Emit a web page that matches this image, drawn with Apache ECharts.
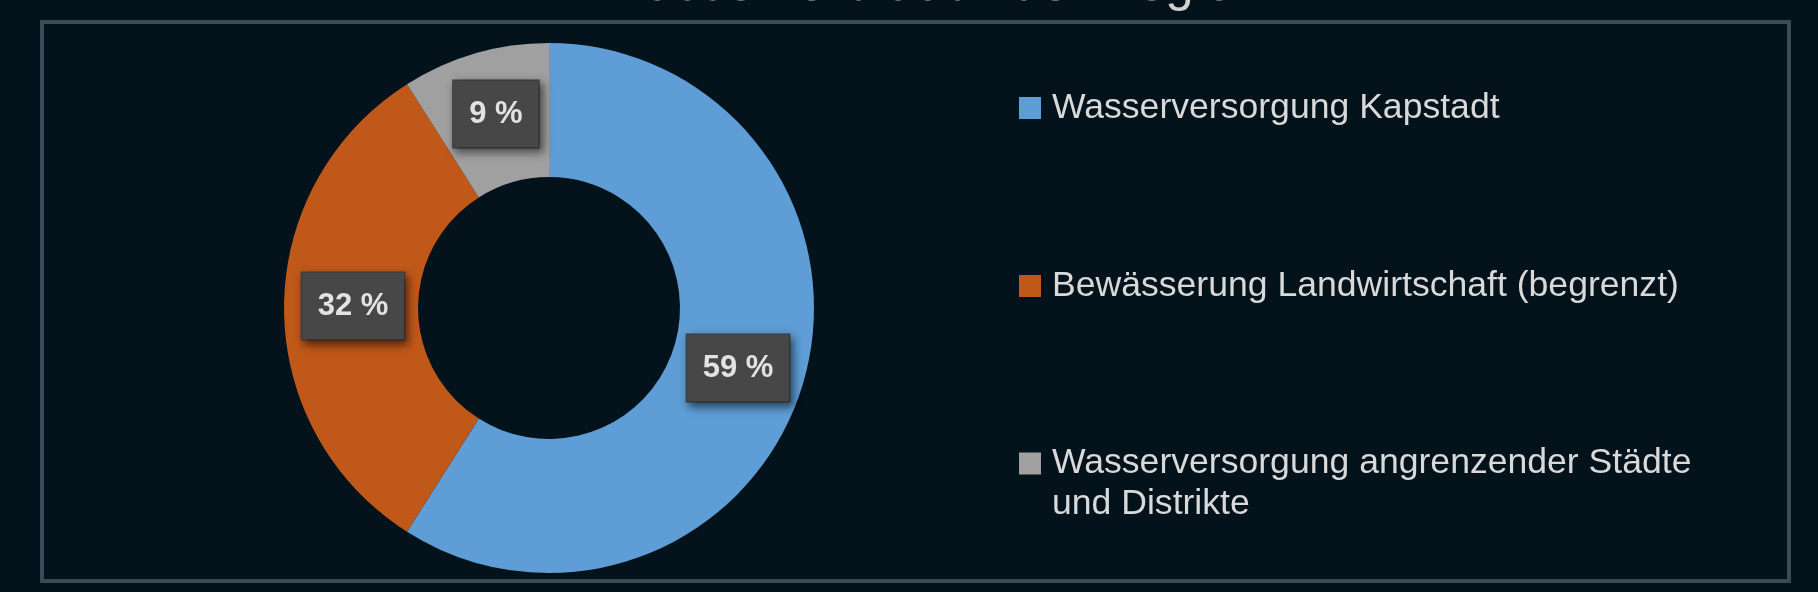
<!DOCTYPE html>
<html>
<head>
<meta charset="utf-8">
<script src="https://cdn.jsdelivr.net/npm/echarts@6/dist/echarts.min.js"></script>
<style>
  html, body { margin: 0; padding: 0; background: #04131b; }
  #chart { width: 1818px; height: 592px; }
</style>
</head>
<body>
<div id="chart"></div>
<script>
// Daten
const titleText = 'Wasserverbrauch der Region';
const categories = [
  'Wasserversorgung Kapstadt',
  'Bewässerung Landwirtschaft (begrenzt)',
  'Wasserversorgung angrenzender Städte und Distrikte'
];
const shares = [59, 32, 9];
const colors = ['#5e9dd5', '#c0581a', '#a0a0a0'];

const font = '"Liberation Sans", Arial, sans-serif';
const legendTops = [87.5, 265.5, 402];
// kleine Verschiebung der Prozent-Kästchen wie im Original
const labelShift = [[-4, 4], [5, -2], [3, -1]];

const chart = echarts.init(document.getElementById('chart'));

const legendText = {
  color: '#d9d9d9',
  fontFamily: font,
  fontSize: 35.6,
  lineHeight: 41,
  padding: [0, 0, 0, 6]
};

chart.setOption({
  backgroundColor: '#04131b',
  title: {
    text: titleText,
    left: 926,
    top: -44.5,
    textAlign: 'center',
    textStyle: { color: '#d0d0d0', fontFamily: font, fontSize: 51, fontWeight: 'normal' }
  },
  graphic: [{
    type: 'rect',
    shape: { x: 42, y: 22, width: 1747, height: 559 },
    style: { fill: 'none', stroke: '#3b4a59', lineWidth: 4 },
    silent: true
  }],
  legend: categories.map((name, i) => ({
    orient: 'vertical',
    left: 1019,
    top: legendTops[i],
    padding: 0,
    itemWidth: 22,
    itemHeight: 22,
    icon: 'rect',
    selectedMode: false,
    textStyle: legendText,
    data: [name],
    // 3. Eintrag zweizeilig; Leerzeile oben, damit das Symbol auf Höhe der ersten Zeile steht
    formatter: n => n.indexOf(' und ') > 0 ? '\n' + n.replace(' und ', '\nund ') : n
  })),
  series: [{
    type: 'pie',
    center: [549, 308],
    radius: [131, 265],
    startAngle: 90,
    clockwise: true,
    silent: true,
    emphasis: { disabled: true },
    labelLine: { show: false },
    label: {
      show: true,
      position: 'inside',
      formatter: '{c} %',
      color: '#e2e2e2',
      fontFamily: font,
      fontSize: 31,
      fontWeight: 'bold',
      lineHeight: 35,
      backgroundColor: '#474747',
      borderColor: '#3e3e3e',
      borderWidth: 1,
      padding: [16, 16],
      shadowColor: 'rgba(0,0,0,0.55)',
      shadowBlur: 8,
      shadowOffsetX: 3,
      shadowOffsetY: 4
    },
    data: categories.map((name, i) => ({
      name: name,
      value: shares[i],
      itemStyle: { color: colors[i] },
      label: { offset: labelShift[i] }
    }))
  }]
});
</script>
</body>
</html>
